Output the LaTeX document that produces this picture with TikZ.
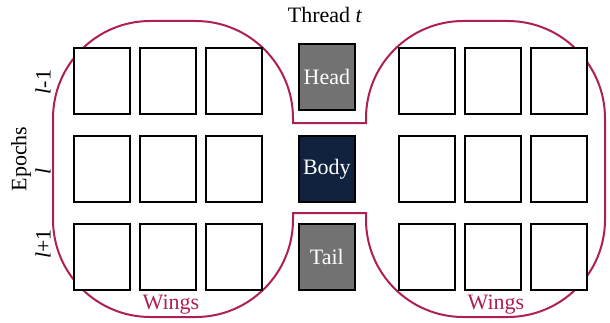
\documentclass[tikz,border=0pt]{standalone}
\usepackage{fontspec}
\setmainfont{Liberation Serif}
\usetikzlibrary{shadows}
\definecolor{wingred}{HTML}{AE1F55}
\definecolor{bodyblue}{HTML}{10223E}
\definecolor{headgray}{HTML}{727272}
\begin{document}
\begin{tikzpicture}[x=0.75pt,y=0.75pt,
  cell/.style={draw=black, line width=1.3pt, fill=white, minimum width=42pt, minimum height=49.5pt,
    inner sep=0pt, anchor=north west, drop shadow={shadow xshift=0.8pt, shadow yshift=-0.8pt, fill=black!25, opacity=1}},
  midcell/.style={cell, text=white, font=\fontsize{16.5}{18}\selectfont},
  wingline/.style={draw=wingred, line width=1.5pt},
  winglabel/.style={text=wingred, font=\fontsize{16.5}{18}\selectfont},
  lab/.style={font=\fontsize{16.5}{18}\selectfont}]
\useasboundingbox (0,0) rectangle (610,322);

% outer curve around both wings, leaving out the head and tail slots
\draw[wingline, rounded corners=73pt]
  (293,199) -- (293,301) -- (53,301) -- (53,5) -- (293,5) [sharp corners] -- (293,109)
  -- (366,109) [rounded corners=73pt] -- (366,5) -- (605,5) -- (605,301) -- (366,301) [sharp corners] -- (366,199) -- cycle;

% left wing cells
\foreach \c/\x in {1/73,2/139,3/205}{
  \foreach \r/\y in {1/275,2/187,3/99}{
    \node[cell] (L\r\c) at (\x,\y) {};
  }
}
% right wing cells
\foreach \c/\x in {1/398,2/464,3/530}{
  \foreach \r/\y in {1/275,2/187,3/99}{
    \node[cell] (R\r\c) at (\x,\y) {};
  }
}

% thread t cells
\node[midcell, fill=headgray] (head) at (298,279) {Head};
\node[midcell, fill=bodyblue] (body) at (298,187) {Body};
\node[midcell, fill=headgray] (tail) at (298,99) {Tail};

\node[lab] (thread) at (325,307) {Thread \textit{t}};

% epoch labels
\node[lab, rotate=90] (em1) at (43,240) {\textit{l}-1};
\node[lab, rotate=90] (epochs) at (21,163) {Epochs};
\node[lab, rotate=90] (e0) at (43,151) {\textit{l}};
\node[lab, rotate=90] (ep1) at (43,78) {\textit{l}+1};

\node[winglabel] (wl) at (171,17) {Wings};
\node[winglabel] (wr) at (496,17) {Wings};
\end{tikzpicture}
\end{document}
